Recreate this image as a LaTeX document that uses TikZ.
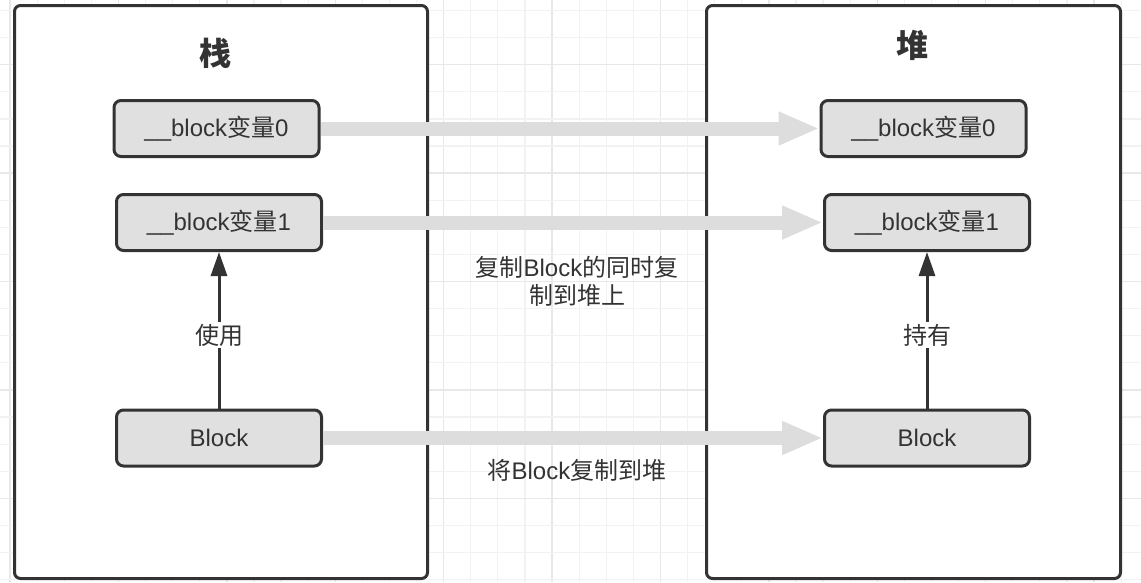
\documentclass[tikz,border=0pt]{standalone}
\usepackage{fontspec}
\setmainfont{Liberation Sans}
\newfontfamily\cjk{Noto Sans CJK SC}
\usetikzlibrary{arrows.meta}
\newcommand\zh[1]{{\cjk #1}}
\definecolor{ink}{HTML}{333333}
\definecolor{boxfill}{HTML}{E0E0E0}
\definecolor{flow}{HTML}{DDDDDD}
\definecolor{gridminor}{HTML}{F2F2F2}
\definecolor{gridmajor}{HTML}{E8E8E8}
\tikzset{
  container/.style={draw=ink, line width=3pt, fill=white, rounded corners=6pt, inner sep=0pt},
  title/.style={text=ink, font=\fontsize{32}{36}\selectfont\cjk\bfseries},
  item/.style={draw=ink, line width=3pt, fill=boxfill, rounded corners=7pt, minimum width=205pt, minimum height=56pt, inner sep=0pt, text=ink, font=\fontsize{24}{28}\selectfont},
  copyflow/.style={draw=flow, line width=14pt, -{Triangle[length=41pt,width=31pt]}},
  useflow/.style={draw=ink, line width=3pt, -{Triangle[length=24pt,width=16pt]}},
  elabel/.style={text=ink, font=\fontsize{24}{28}\selectfont, inner sep=2pt},
  gminor/.style={draw=gridminor, line width=1.2pt},
  gmajor/.style={draw=gridmajor, line width=1.4pt}
}
\begin{document}
\begin{tikzpicture}[x=1pt, y=-1pt]
\useasboundingbox (0,0) rectangle (1141,582);
\fill[white] (0,0) rectangle (1141,582);
% background grid
\foreach \i in {-16,...,26} {
  \pgfmathsetmacro\xx{443.6+27.1*\i}
  \pgfmathtruncatemacro\mm{mod(\i+64,4)}
  \ifnum\mm=0 \draw[gmajor] (\xx,0) -- (\xx,582); \else \draw[gminor] (\xx,0) -- (\xx,582); \fi
}
\foreach \j in {0,...,21} {
  \pgfmathsetmacro\yy{10.5+27.1*\j}
  \pgfmathtruncatemacro\mm{mod(\j+64-2,4)}
  \ifnum\mm=0 \draw[gmajor] (0,\yy) -- (1141,\yy); \else \draw[gminor] (0,\yy) -- (1141,\yy); \fi
}
% containers
\node[container, minimum width=413pt, minimum height=573pt] (stack) at (221,292) {};
\node[container, minimum width=414pt, minimum height=573pt] (heap) at (913.5,292) {};
\node[title] (stacktitle) at (215,53) {栈};
\node[title] (heaptitle) at (912,45) {堆};
% items
\node[item] (L0) at (216.5,128.5) {\_\_block\zh{变量}0};
\node[item] (L1) at (219,222.5) {\_\_block\zh{变量}1};
\node[item] (LB) at (219,438) {Block};
\node[item] (R0) at (923.5,128.5) {\_\_block\zh{变量}0};
\node[item] (R1) at (927,222.5) {\_\_block\zh{变量}1};
\node[item] (RB) at (927,438) {Block};
% copy arrows
\draw[copyflow] (L0.east) -- (R0.west);
\draw[copyflow] (L1.east) -- (R1.west);
\draw[copyflow] (LB.east) -- (RB.west);
% use / hold arrows
\draw[useflow] (LB.north) -- node[elabel, fill=white, pos=0.47] (use) {\zh{使用}} (L1.south);
\draw[useflow] (RB.north) -- node[elabel, fill=white, pos=0.47] (hold) {\zh{持有}} (R1.south);
% labels
\node[elabel, align=center] (copylabel1) at (577,281) {\zh{复制}Block\zh{的同时复}\\\zh{制到堆上}};
\node[elabel] (copylabel2) at (577,470) {\zh{将}Block\zh{复制到堆}};
\end{tikzpicture}
\end{document}
